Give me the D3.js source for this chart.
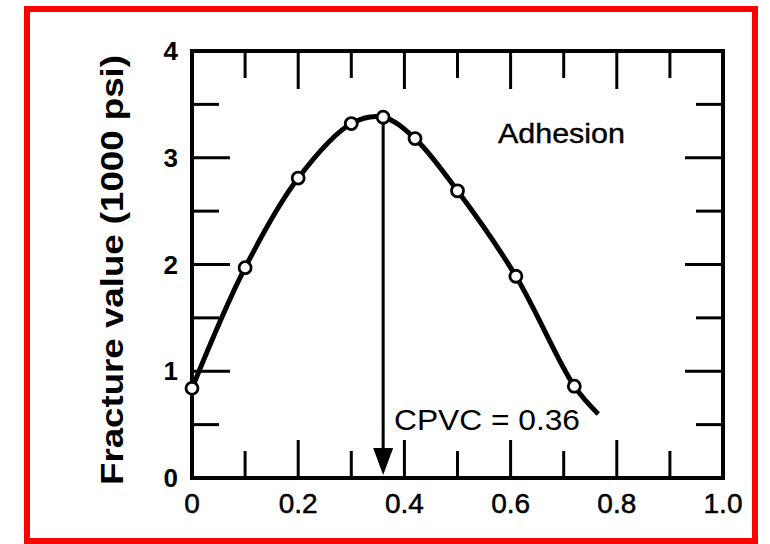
<!DOCTYPE html>
<html><head><meta charset="utf-8">
<script src="https://cdn.jsdelivr.net/npm/d3@7"></script>
<style>body{margin:0;background:#fff;} svg{display:block;}</style>
</head><body>
<script>
// ---- data ----
const pointX = [0, 0.1, 0.2, 0.3, 0.36, 0.42, 0.5, 0.61, 0.72];
const pointY = [0.84, 1.97, 2.81, 3.32, 3.38, 3.18, 2.69, 1.89, 0.86];
const curveX = [0, 0.1, 0.2, 0.3, 0.36, 0.42, 0.5, 0.61, 0.72, 0.765];
const curveY = [0.84, 1.97, 2.81, 3.32, 3.38, 3.18, 2.69, 1.89, 0.86, 0.6];
const xMajorTicks = [0, 0.2, 0.4, 0.6, 0.8, 1.0];
const xMinorTicks = [0.1, 0.3, 0.5, 0.7, 0.9];
const xTickLabels = ["0", "0.2", "0.4", "0.6", "0.8", "1.0"];
const yMajorTicks = [0, 1, 2, 3, 4];
const yMinorTicks = [0.5, 1.5, 2.5, 3.5];
const yTickLabels = ["0", "1", "2", "3", "4"];
const cpvc = 0.36;
const cpvcLabel = "CPVC = 0.36";
const seriesLabel = "Adhesion";
const yTitle = "Fracture value (1000 psi)";

const W = 770, H = 544;
const svg = d3.select("body").append("svg").attr("width", W).attr("height", H);

// red frame
svg.append("rect").attr("x", 27).attr("y", 9).attr("width", 728).attr("height", 532)
  .attr("fill", "none").attr("stroke", "#ff0000").attr("stroke-width", 6);

const x = d3.scaleLinear().domain([0, 1]).range([192, 723]);
const y = d3.scaleLinear().domain([0, 4]).range([478, 51]);

const MAJ = 38, MIN = 27;
const g = svg.append("g").attr("stroke", "#000").attr("stroke-width", 3).attr("stroke-linecap", "butt");

// ticks (inward) on all four sides
xMajorTicks.concat(xMinorTicks).forEach(v => {
  const L = xMajorTicks.includes(v) ? MAJ : MIN;
  g.append("line").attr("x1", x(v)).attr("x2", x(v)).attr("y1", y(0)).attr("y2", y(0) - L);
  g.append("line").attr("x1", x(v)).attr("x2", x(v)).attr("y1", y(4)).attr("y2", y(4) + L);
});
yMajorTicks.concat(yMinorTicks).forEach(v => {
  const L = yMajorTicks.includes(v) ? MAJ : MIN;
  g.append("line").attr("y1", y(v)).attr("y2", y(v)).attr("x1", x(0)).attr("x2", x(0) + L);
  g.append("line").attr("y1", y(v)).attr("y2", y(v)).attr("x1", x(1)).attr("x2", x(1) - L);
});

// frame
svg.append("rect").attr("x", x(0)).attr("y", y(4)).attr("width", x(1) - x(0)).attr("height", y(0) - y(4))
  .attr("fill", "none").attr("stroke", "#000").attr("stroke-width", 4);

// tick labels
svg.append("g").selectAll("text").data(xMajorTicks).join("text")
  .attr("x", d => x(d)).attr("y", 513).attr("text-anchor", "middle")
  .attr("font-family", "Liberation Sans, Arial, sans-serif").attr("font-size", 28)
  .attr("stroke", "#000").attr("stroke-width", 0.5)
  .text((d, i) => xTickLabels[i]);
svg.append("g").selectAll("text").data(yMajorTicks).join("text")
  .attr("x", 178).attr("y", d => y(d) + 9).attr("text-anchor", "end")
  .attr("font-family", "Liberation Sans, Arial, sans-serif").attr("font-size", 26).attr("font-weight", "bold")
  .text((d, i) => yTickLabels[i]);

// y title
svg.append("text").attr("transform", "translate(123,270) rotate(-90)")
  .attr("text-anchor", "middle").attr("font-family", "Liberation Sans, Arial, sans-serif")
  .attr("font-size", 32).attr("font-weight", "bold")
  .attr("textLength", 430).attr("lengthAdjust", "spacingAndGlyphs")
  .text(yTitle);

// curve
const curveData = curveX.map((v, i) => [v, curveY[i]]);
svg.append("path").datum(curveData)
  .attr("d", d3.line().x(d => x(d[0])).y(d => y(d[1])).curve(d3.curveCatmullRom.alpha(0.5)))
  .attr("fill", "none").attr("stroke", "#000").attr("stroke-width", 5);

// arrow at CPVC
const peakY = pointY[pointX.indexOf(cpvc)];
svg.append("line").attr("x1", x(cpvc)).attr("x2", x(cpvc)).attr("y1", y(peakY) + 6).attr("y2", y(0) - 20)
  .attr("stroke", "#000").attr("stroke-width", 3);
svg.append("path")
  .attr("d", `M${x(cpvc) - 10},${y(0) - 30} L${x(cpvc) + 10},${y(0) - 30} L${x(cpvc)},${y(0) - 3} Z`)
  .attr("fill", "#000");

// points
svg.append("g").selectAll("circle").data(pointX).join("circle")
  .attr("cx", d => x(d)).attr("cy", (d, i) => y(pointY[i])).attr("r", 6)
  .attr("fill", "#fff").attr("stroke", "#000").attr("stroke-width", 2.8);

// labels
svg.append("text").attr("x", 394).attr("y", 430)
  .attr("font-family", "Liberation Sans, Arial, sans-serif").attr("font-size", 30)
  .attr("textLength", 186).attr("lengthAdjust", "spacingAndGlyphs").text(cpvcLabel);
svg.append("text").attr("x", 498).attr("y", 143)
  .attr("font-family", "Liberation Sans, Arial, sans-serif").attr("font-size", 28)
  .attr("stroke", "#000").attr("stroke-width", 0.4)
  .attr("textLength", 127).attr("lengthAdjust", "spacingAndGlyphs").text(seriesLabel);
</script>
</body></html>
